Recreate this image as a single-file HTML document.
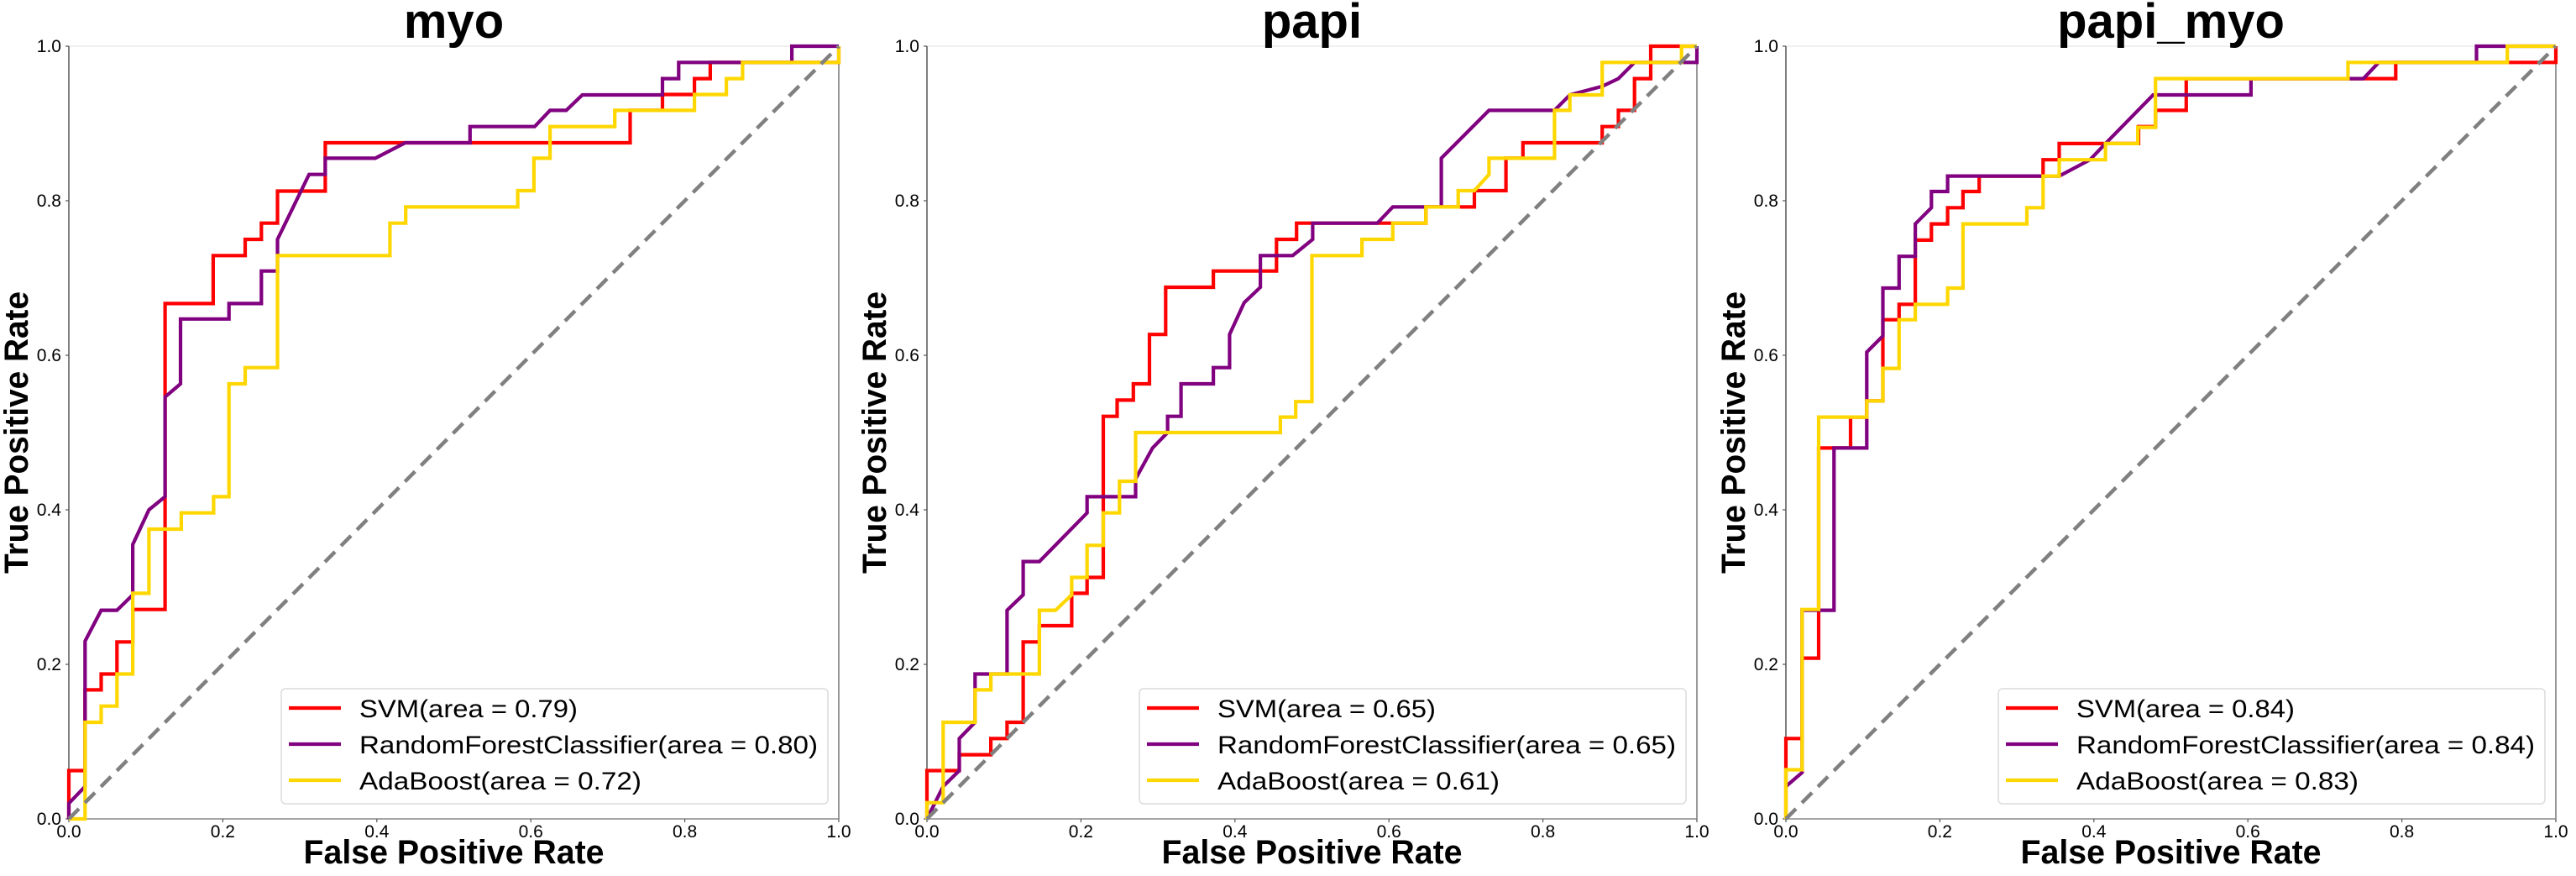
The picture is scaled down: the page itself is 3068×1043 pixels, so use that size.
<!DOCTYPE html>
<html><head><meta charset="utf-8"><style>
html,body{margin:0;padding:0;background:#fff;}
svg{display:block;font-family:"Liberation Sans","DejaVu Sans",sans-serif;}
</style></head><body>
<svg id="chart" width="3068" height="1043" viewBox="0 0 3068 1043" xmlns="http://www.w3.org/2000/svg"></svg>
<script>
// ---- data ----
const panelTitles = ["myo", "papi", "papi_myo"];
const seriesNames = ["SVM", "RandomForestClassifier", "AdaBoost"];
const seriesColors = ["#ff0000", "#800080", "#ffd700"];
const tickValues = [0, 0.2, 0.4, 0.6, 0.8, 1.0];
const tickLabels = ["0.0", "0.2", "0.4", "0.6", "0.8", "1.0"];
const aucMyo = ["0.79", "0.80", "0.72"];
const aucPapi = ["0.65", "0.65", "0.61"];
const aucPapiMyo = ["0.84", "0.84", "0.83"];

const myoSvmX = [0,0,0.021,0.021,0.042,0.042,0.0625,0.0625,0.083,0.083,0.125,0.125,0.1875,0.1875,0.229,0.229,0.25,0.25,0.271,0.271,0.333,0.333,0.729,0.729,0.771,0.771,0.8125,0.8125,0.833,0.833,1,1];
const myoSvmY = [0,0.0625,0.0625,0.167,0.167,0.1875,0.1875,0.229,0.229,0.271,0.271,0.667,0.667,0.729,0.729,0.75,0.75,0.771,0.771,0.8125,0.8125,0.875,0.875,0.917,0.917,0.9375,0.9375,0.958,0.958,0.979,0.979,1];
const myoRfX = [0,0,0.021,0.021,0.042,0.0625,0.083,0.083,0.104,0.125,0.125,0.145,0.145,0.208,0.208,0.25,0.25,0.271,0.271,0.312,0.333,0.333,0.398,0.437,0.521,0.521,0.605,0.625,0.646,0.667,0.771,0.771,0.792,0.792,0.939,0.939,1];
const myoRfY = [0,0.02,0.042,0.23,0.27,0.27,0.29,0.355,0.4,0.417,0.546,0.563,0.647,0.647,0.667,0.667,0.709,0.709,0.75,0.834,0.834,0.855,0.855,0.875,0.875,0.896,0.896,0.917,0.917,0.937,0.937,0.958,0.958,0.979,0.979,1,1];
const myoAdaX = [0,0.021,0.021,0.042,0.042,0.0625,0.0625,0.083,0.083,0.104,0.104,0.146,0.146,0.188,0.188,0.208,0.208,0.229,0.229,0.271,0.271,0.417,0.417,0.4375,0.4375,0.583,0.583,0.604,0.604,0.625,0.625,0.709,0.709,0.8125,0.8125,0.854,0.854,0.875,0.875,1,1];
const myoAdaY = [0,0,0.125,0.125,0.146,0.146,0.1875,0.1875,0.292,0.292,0.375,0.375,0.396,0.396,0.417,0.417,0.563,0.563,0.584,0.584,0.729,0.729,0.771,0.771,0.792,0.792,0.813,0.813,0.855,0.855,0.896,0.896,0.917,0.917,0.9375,0.9375,0.958,0.958,0.979,0.979,1];

const papiSvmX = [0,0,0.042,0.042,0.083,0.083,0.104,0.104,0.125,0.125,0.146,0.146,0.188,0.188,0.208,0.208,0.229,0.229,0.247,0.247,0.268,0.268,0.289,0.289,0.31,0.31,0.372,0.372,0.454,0.454,0.48,0.48,0.605,0.605,0.648,0.648,0.711,0.711,0.752,0.752,0.774,0.774,0.877,0.877,0.898,0.898,0.919,0.919,0.94,0.94,1];
const papiSvmY = [0,0.0625,0.0625,0.083,0.083,0.104,0.104,0.125,0.125,0.229,0.229,0.25,0.25,0.292,0.292,0.3125,0.3125,0.521,0.521,0.542,0.542,0.563,0.563,0.627,0.627,0.688,0.688,0.709,0.709,0.75,0.75,0.771,0.771,0.771,0.771,0.792,0.792,0.813,0.813,0.855,0.855,0.875,0.875,0.896,0.896,0.917,0.917,0.958,0.958,1,1];
const papiRfX = [0,0.021,0.042,0.042,0.0625,0.0625,0.083,0.104,0.104,0.125,0.125,0.146,0.208,0.208,0.271,0.271,0.293,0.3125,0.3125,0.33,0.33,0.372,0.372,0.393,0.393,0.412,0.433,0.433,0.475,0.501,0.501,0.585,0.605,0.668,0.668,0.73,0.815,0.835,0.877,0.898,0.919,1,1];
const papiRfY = [0,0.042,0.0625,0.104,0.125,0.1875,0.1875,0.1875,0.27,0.29,0.333,0.333,0.396,0.417,0.417,0.44,0.48,0.5,0.521,0.521,0.563,0.563,0.584,0.584,0.627,0.668,0.688,0.729,0.729,0.75,0.771,0.771,0.792,0.792,0.855,0.917,0.917,0.937,0.948,0.958,0.979,0.979,1];
const papiAdaX = [0,0,0.021,0.021,0.0625,0.0625,0.083,0.083,0.146,0.146,0.167,0.188,0.188,0.208,0.208,0.229,0.229,0.25,0.25,0.271,0.271,0.459,0.459,0.479,0.479,0.5,0.5,0.565,0.565,0.605,0.605,0.648,0.648,0.69,0.69,0.711,0.73,0.73,0.815,0.815,0.835,0.835,0.877,0.877,0.98,0.98,1];
const papiAdaY = [0,0.021,0.021,0.125,0.125,0.167,0.167,0.1875,0.1875,0.27,0.27,0.29,0.3125,0.3125,0.354,0.354,0.396,0.396,0.437,0.437,0.5,0.5,0.52,0.52,0.54,0.54,0.729,0.729,0.75,0.75,0.771,0.771,0.792,0.792,0.813,0.813,0.834,0.855,0.855,0.917,0.917,0.937,0.937,0.979,0.979,1,1];

const pmSvmX = [0,0,0.021,0.021,0.0425,0.0425,0.084,0.084,0.105,0.105,0.126,0.126,0.147,0.147,0.168,0.168,0.189,0.189,0.21,0.21,0.23,0.23,0.251,0.251,0.334,0.334,0.355,0.355,0.458,0.458,0.48,0.48,0.52,0.52,0.792,0.792,1,1];
const pmSvmY = [0,0.104,0.104,0.208,0.208,0.48,0.48,0.52,0.52,0.541,0.541,0.646,0.646,0.666,0.666,0.749,0.749,0.77,0.77,0.791,0.791,0.812,0.812,0.832,0.832,0.853,0.853,0.874,0.874,0.896,0.896,0.917,0.917,0.958,0.958,0.979,0.979,1];
const pmRfX = [0,0.021,0.021,0.0625,0.0625,0.105,0.105,0.126,0.126,0.147,0.147,0.168,0.168,0.189,0.189,0.21,0.21,0.334,0.355,0.395,0.415,0.477,0.604,0.604,0.75,0.77,0.897,0.897,1];
const pmRfY = [0.042,0.06,0.27,0.27,0.48,0.48,0.604,0.625,0.687,0.687,0.728,0.728,0.77,0.791,0.812,0.812,0.832,0.832,0.832,0.853,0.874,0.937,0.937,0.958,0.958,0.979,0.979,1,1];
const pmAdaX = [0,0,0.021,0.021,0.0425,0.0425,0.105,0.105,0.126,0.126,0.147,0.147,0.168,0.168,0.21,0.21,0.23,0.23,0.313,0.313,0.334,0.334,0.355,0.355,0.415,0.415,0.457,0.457,0.48,0.48,0.73,0.73,0.937,0.937,1];
const pmAdaY = [0,0.0636,0.0636,0.271,0.271,0.52,0.52,0.541,0.541,0.583,0.583,0.646,0.646,0.666,0.666,0.687,0.687,0.77,0.77,0.791,0.791,0.832,0.832,0.853,0.853,0.874,0.874,0.895,0.895,0.958,0.958,0.979,0.979,1,1];

const panelX = [[myoSvmX, myoRfX, myoAdaX], [papiSvmX, papiRfX, papiAdaX], [pmSvmX, pmRfX, pmAdaX]];
const panelY = [[myoSvmY, myoRfY, myoAdaY], [papiSvmY, papiRfY, papiAdaY], [pmSvmY, pmRfY, pmAdaY]];
const panelAuc = [aucMyo, aucPapi, aucPapiMyo];

// ---- layout ----
const NS = "http://www.w3.org/2000/svg";
const svg = document.getElementById("chart");
const axLefts = [82, 1104, 2127];
const axW = 917, axTop = 55, axBottom = 975;
function mk(tag, attrs, parent) {
  const e = document.createElementNS(NS, tag);
  for (const k in attrs) e.setAttribute(k, attrs[k]);
  parent.appendChild(e);
  return e;
}
const legendTexts = [
  (a) => "SVM(area = " + a + ")",
  (a) => "RandomForestClassifier(area = " + a + ")",
  (a) => "AdaBoost(area = " + a + ")"
];
const legendLens = [260, 546, 336];

panelTitles.forEach((title, p) => {
  const L = axLefts[p];
  const sx = v => L + v * axW;
  const sy = v => axBottom - v * (axBottom - axTop);
  const g = mk("g", {}, svg);
  
  

  // spines
  const top = mk("line", {x1: L, y1: axTop, x2: L + axW, y2: axTop, stroke: "#ebebeb", "stroke-width": 1.5}, g);
  
  
  const right = mk("line", {x1: L + axW, y1: axTop, x2: L + axW, y2: axBottom, stroke: "#999", "stroke-width": 2}, g);
  
  
  const left = mk("line", {x1: L, y1: axTop, x2: L, y2: axBottom, stroke: "#555", "stroke-width": 1.5}, g);
  
  
  const bottom = mk("line", {x1: L, y1: axBottom, x2: L + axW, y2: axBottom, stroke: "#888", "stroke-width": 1.5}, g);
  
  

  // ticks
  tickValues.forEach((v, i) => {
    const yt = mk("line", {x1: L - 4, y1: sy(v), x2: L, y2: sy(v), stroke: "#555", "stroke-width": 1.2}, g);
    
    
    const yl = mk("text", {x: L - 9, y: sy(v) + 7, "text-anchor": "end", "font-size": 21, fill: "#000"}, g);
    yl.textContent = tickLabels[i];
    
    
    const xt = mk("line", {x1: sx(v), y1: axBottom, x2: sx(v), y2: axBottom + 4, stroke: "#555", "stroke-width": 1.2}, g);
    
    
    const xl = mk("text", {x: sx(v), y: 997, "text-anchor": "middle", "font-size": 21, fill: "#000"}, g);
    xl.textContent = tickLabels[i];
    
    
  });

  // title and axis titles
  const t = mk("text", {x: L + axW / 2, y: 45, "text-anchor": "middle", "font-size": 58, "font-weight": "bold", fill: "#000"}, g);
  t.textContent = title;
  
  
  const xlab = mk("text", {x: L + axW / 2, y: 1028, "text-anchor": "middle", "font-size": 40, "font-weight": "bold", fill: "#000", textLength: 358, lengthAdjust: "spacingAndGlyphs"}, g);
  xlab.textContent = "False Positive Rate";
  
  
  const yx = L - 49, yc = (axTop + axBottom) / 2;
  const ylab = mk("text", {x: yx, y: yc, "text-anchor": "middle", "font-size": 40, "font-weight": "bold", fill: "#000", textLength: 336, lengthAdjust: "spacingAndGlyphs", transform: "rotate(-90 " + yx + " " + yc + ")"}, g);
  ylab.textContent = "True Positive Rate";
  
  

  // series
  for (let s = 0; s < 3; s++) {
    const xs = panelX[p][s], ys = panelY[p][s];
    const pts = xs.map((x, i) => sx(x).toFixed(1) + "," + sy(ys[i]).toFixed(1)).join(" ");
    const pl = mk("polyline", {points: pts, fill: "none", stroke: seriesColors[s], "stroke-width": 4.2, "stroke-linejoin": "miter"}, g);
    
    
  }
  const diag = mk("line", {x1: sx(0), y1: sy(0), x2: sx(1), y2: sy(1), stroke: "#808080", "stroke-width": 4.5, "stroke-dasharray": "17,10"}, g);
  
  

  // legend
  const lg = mk("g", {}, g);
  
  
  const box = mk("rect", {x: L + 253, y: 820, width: axW - 266, height: 137, rx: 5, fill: "#fff", "fill-opacity": 0.85, stroke: "#dcdcdc", "stroke-width": 1.5}, lg);
  
  
  const rows = [843, 886, 929];
  for (let s = 0; s < 3; s++) {
    const ls = mk("line", {x1: L + 262, y1: rows[s], x2: L + 324, y2: rows[s], stroke: seriesColors[s], "stroke-width": 4.2}, lg);
    
    
    const lt = mk("text", {x: L + 346, y: rows[s] + 11, "font-size": 30, fill: "#000", textLength: legendLens[s], lengthAdjust: "spacingAndGlyphs"}, lg);
    lt.textContent = legendTexts[s](panelAuc[p][s]);
    
    
  }
});
</script>
</body></html>
